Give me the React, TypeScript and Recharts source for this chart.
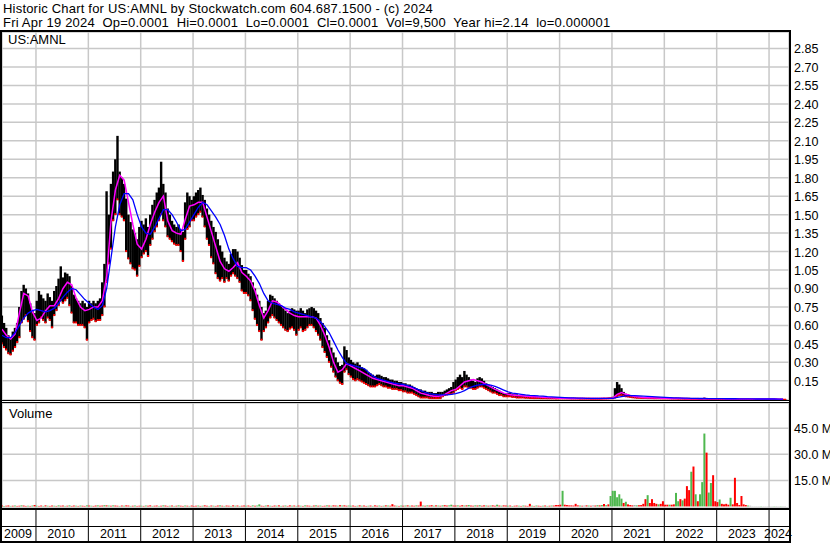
import { ComposedChart, Bar, Line, XAxis, YAxis, CartesianGrid, Cell } from "recharts";

// semi-monthly periods, first one mid May 2009
const START = 2009.35;
const STEP = 1 / 24;
const X_DOMAIN: [number, number] = [2009.351, 2024.381];

const yearTicks = [2010, 2011, 2012, 2013, 2014, 2015, 2016, 2017, 2018, 2019, 2020, 2021, 2022, 2023, 2024];
const yearLabels = ["2009", "2010", "2011", "2012", "2013", "2014", "2015", "2016", "2017", "2018", "2019", "2020", "2021", "2022", "2023", "2024"];
const priceTicks = [0.15, 0.3, 0.45, 0.6, 0.75, 0.9, 1.05, 1.2, 1.35, 1.5, 1.65, 1.8, 1.95, 2.1, 2.25, 2.4, 2.55, 2.7, 2.85];
const volumeTicks = [15, 30, 45];

// period highs / lows (US$)
const highs = [
  .68, .62, .58, .52, .50, .55, .58, .62, .75, .88, .93, .90, .86, .78, .72, .70, // 2009
  .80, .88, .85, .82, .80, .86, .83, .80, .88, .92, .98, 1.08, .99, 1.03, 1.02, 1.00, .92, .85, .82, .80, .78, .80, .78, .75, // 2010
  .80, .78, .80, .78, .80, .82, .95, 1.10, 1.69, 1.50, 1.75, 1.85, 1.95, 2.14, 1.85, 1.80, 1.75, 1.63, 1.50, 1.44, 1.38, 1.35, 1.30, 1.40, // 2011
  1.45, 1.42, 1.47, 1.40, 1.50, 1.58, 1.62, 1.68, 1.72, 1.93, 1.75, 1.68, 1.55, 1.50, 1.45, 1.42, 1.40, 1.42, 1.38, 1.36, 1.60, 1.68, 1.65, 1.62, // 2012
  1.65, 1.68, 1.70, 1.72, 1.66, 1.62, 1.55, 1.50, 1.45, 1.40, 1.36, 1.30, 1.25, 1.20, 1.15, 1.12, 1.10, 1.18, 1.22, 1.22, 1.20, 1.15, 1.09, 1.05, // 2013
  1.05, 1.02, 1.00, .95, .90, .85, .80, .75, .70, .72, .80, .85, .84, .82, .80, .78, .76, .74, .72, .70, .72, .74, .73, .72, // 2014
  .72, .74, .72, .70, .73, .74, .75, .74, .72, .70, .66, .62, .58, .52, .48, .42, .38, .34, .30, .27, .28, .43, .40, .34, // 2015
  .32, .30, .29, .30, .28, .26, .25, .24, .22, .21, .20, .19, .20, .20, .19, .18, .18, .17, .16, .16, .15, .15, .14, .14, // 2016
  .13, .13, .12, .12, .11, .10, .09, .08, .08, .07, .07, .06, .06, .06, .05, .05, .06, .06, .06, .07, .08, .09, .10, .14, // 2017
  .16, .18, .20, .18, .23, .20, .18, .16, .15, .14, .17, .18, .17, .15, .13, .12, .11, .10, .09, .08, .07, .06, .05, .05, // 2018
  .05, .05, .045, .04, .04, .035, .035, .03, .03, .03, .025, .025, .025, .02, .02, .02, .02, .018, .018, .016, .016, .015, .015, .014, // 2019
  .013, .012, .012, .011, .011, .010, .010, .010, .010, .009, .009, .009, .009, .009, .008, .008, .008, .008, .008, .009, .010, .010, .012, .015, // 2020
  .02, .09, .14, .12, .09, .06, .045, .04, .035, .03, .025, .022, .02, .02, .018, .018, .016, .016, .015, .015, .014, .014, .013, .013, // 2021
  .012, .012, .011, .011, .010, .010, .009, .009, .009, .008, .008, .008, .007, .007, .007, .007, .006, .006, .012, .006, .005, .005, .005, .005, // 2022
  .005, .005, .005, .004, .004, .004, .004, .004, .003, .003, .003, .003, .003, .003, .003, .002, .002, .002, .002, .002, .002, .002, .002, .002, // 2023
  .002, .002, .0015, .0015, .001, .001, .0005, .0005, // 2024
];

const lows = [
  .45, .42, .40, .37, .36, .39, .42, .46, .50, .62, .65, .68, .63, .55, .50, .48, // 2009
  .60, .62, .66, .64, .62, .66, .64, .58, .68, .72, .76, .80, .78, .80, .82, .76, .70, .62, .62, .60, .60, .60, .58, .48, // 2010
  .62, .64, .65, .63, .64, .64, .68, .75, .95, 1.10, 1.22, 1.45, 1.50, 1.62, 1.50, 1.48, 1.45, 1.20, 1.14, 1.10, 1.06, 1.05, 1.00, 1.08, // 2011
  1.15, 1.18, 1.20, 1.16, 1.25, 1.30, 1.36, 1.40, 1.45, 1.50, 1.45, 1.40, 1.32, 1.30, 1.28, 1.26, 1.25, 1.25, 1.20, 1.12, 1.30, 1.38, 1.40, 1.45, // 2012
  1.45, 1.48, 1.50, 1.52, 1.48, 1.40, 1.30, 1.25, 1.15, 1.10, 1.02, .98, .96, .98, .95, .98, .96, 1.00, 1.02, 1.00, .98, .95, .88, .86, // 2013
  .86, .84, .80, .72, .65, .60, .55, .48, .55, .58, .62, .66, .68, .66, .64, .62, .60, .58, .56, .55, .57, .58, .56, .52, // 2014
  .56, .58, .55, .56, .58, .60, .60, .58, .55, .52, .48, .42, .38, .34, .30, .26, .22, .18, .15, .13, .12, .22, .24, .20, // 2015
  .18, .16, .15, .16, .15, .14, .13, .12, .11, .10, .10, .10, .11, .12, .11, .10, .10, .09, .09, .08, .08, .08, .07, .07, // 2016
  .06, .06, .05, .05, .05, .04, .03, .02, .01, .01, .01, .01, .005, .005, .005, .005, .005, .005, .02, .03, .035, .04, .04, .05, // 2017
  .07, .08, .09, .08, .10, .10, .09, .09, .08, .08, .09, .10, .10, .09, .08, .07, .06, .05, .05, .04, .03, .03, .02, .02, // 2018
  .02, .02, .015, .015, .01, .01, .01, .01, .008, .008, .006, .006, .005, .005, .005, .004, .004, .004, .003, .003, .003, .003, .002, .002, // 2019
  .003, .003, .003, .003, .003, .002, .002, .002, .002, .002, .002, .002, .002, .002, .002, .002, .002, .002, .002, .002, .003, .003, .003, .004, // 2020
  .004, .01, .02, .03, .03, .025, .02, .018, .015, .012, .01, .008, .008, .007, .006, .006, .005, .005, .005, .004, .004, .004, .003, .003, // 2021
  .003, .003, .003, .002, .002, .002, .002, .002, .002, .002, .0015, .0015, .0015, .0015, .001, .001, .001, .001, .001, .001, .001, .001, .0008, .0008, // 2022
  .0005, .0005, .0005, .0005, .0005, .0005, .0005, .0005, .0003, .0003, .0003, .0003, .0003, .0003, .0003, .0003, .0001, .0001, .0001, .0001, .0001, .0001, .0001, .0001, // 2023
  .0001, .0001, .0001, .0001, .0001, .0001, .0001, .0001, // 2024
];

// monthly moving averages (magenta = short, blue = long)
const fastMA = [
  .57, .52, .49, .53, .70, .86, .84, .71, // 2009
  .64, .66, .72, .76, .76, .82, .90, .95, .93, .82, .75, .72, // 2010
  .73, .75, .75, .80, 1.00, 1.45, 1.70, 1.82, 1.78, 1.60, 1.42, 1.26, // 2011
  1.22, 1.30, 1.42, 1.52, 1.60, 1.65, 1.45, 1.37, 1.35, 1.34, 1.46, 1.57, // 2012
  1.58, 1.60, 1.60, 1.48, 1.36, 1.24, 1.12, 1.06, 1.04, 1.07, 1.11, 1.03, // 2013
  1.00, .96, .88, .76, .66, .72, .80, .79, .76, .73, .70, .68, // 2014
  .67, .67, .67, .67, .66, .60, .52, .42, .30, .22, .24, .29, // 2015
  .27, .25, .23, .21, .19, .17, .16, .15, .14, .13, .12, .11, // 2016
  .11, .10, .09, .07, .05, .04, .03, .025, .025, .03, .05, .07, // 2017
  .08, .11, .14, .15, .16, .15, .14, .12, .10, .08, .065, .05, // 2018
  .04, .035, .03, .028, .025, .022, .02, .018, .016, .014, .012, .01, // 2019
  .009, .008, .007, .007, .007, .006, .006, .006, .006, .006, .006, .007, // 2020
  .01, .04, .055, .04, .03, .022, .018, .015, .013, .012, .01, .009, // 2021
  .008, .007, .007, .006, .006, .005, .005, .005, .004, .004, .004, .004, // 2022
  .004, .004, .003, .003, .003, .003, .002, .002, .002, .002, .002, .002, // 2023
  .0015, .0015, .001, .001, // 2024
];

const slowMA = [
  .52, .50, .50, .54, .60, .66, .70, .72, // 2009
  .73, .72, .71, .72, .74, .78, .83, .87, .90, .89, .85, .81, // 2010
  .78, .75, .73, .76, .90, 1.15, 1.40, 1.58, 1.67, 1.67, 1.62, 1.50, // 2011
  1.40, 1.35, 1.34, 1.40, 1.47, 1.54, 1.54, 1.50, 1.44, 1.37, 1.38, 1.44, // 2012
  1.50, 1.56, 1.60, 1.58, 1.53, 1.48, 1.42, 1.33, 1.22, 1.14, 1.08, 1.07, // 2013
  1.07, 1.05, 1.00, .94, .86, .80, .78, .77, .76, .74, .73, .71, // 2014
  .70, .69, .68, .67, .66, .63, .59, .54, .47, .40, .34, .29, // 2015
  .28, .27, .26, .25, .22, .19, .17, .16, .15, .14, .13, .125, // 2016
  .12, .11, .10, .085, .07, .055, .045, .04, .035, .035, .035, .04, // 2017
  .045, .055, .07, .09, .105, .115, .12, .12, .115, .105, .09, .075, // 2018
  .06, .05, .045, .04, .035, .032, .03, .027, .025, .022, .02, .018, // 2019
  .016, .014, .012, .011, .01, .009, .008, .008, .007, .007, .007, .007, // 2020
  .008, .015, .022, .028, .03, .03, .028, .026, .024, .022, .02, .018, // 2021
  .016, .014, .012, .011, .01, .009, .008, .007, .006, .006, .005, .005, // 2022
  .005, .005, .004, .004, .004, .003, .003, .003, .003, .002, .002, .002, // 2023
  .002, .002, .0015, .0015, // 2024
];

// volume in millions, colour r = down, g = up, k = unchanged
const volumes = [
  .5, .3, .4, .6, .3, .4, .5, .3, .4, .6, .5, .3, .4, .3, .5, .8, // 2009
  .4, .3, .5, .3, .6, .4, .3, .5, .4, .3, .6, .4, .5, .3, .4, .6, .3, .5, .4, .3, .5, .4, .3, .6, // 2010
  .5, .4, .3, .5, .6, .4, .5, .7, .6, .5, .4, .6, .5, .4, .3, .5, .4, .6, .5, .3, .4, .5, .3, .4, // 2011
  .4, .3, .5, .4, .6, .3, .4, .5, .3, .4, .6, .5, .3, .4, .5, .3, .4, .6, .4, .3, .5, .4, .3, .5, // 2012
  .3, .4, .5, .3, .4, .6, .4, .3, .5, .4, .3, .5, .6, .4, .3, .5, .4, .3, .6, .4, .5, .3, .4, .5, // 2013
  .4, .5, .3, .6, .4, .5, 1.2, .4, .3, .5, .6, .4, .3, .5, .4, .6, .3, .4, .5, .3, .6, .4, .5, .3, // 2014
  .5, .4, .3, .6, .5, .4, .3, .5, .6, .4, .5, .3, .4, .6, .5, .4, .6, .5, .4, .7, .5, .6, .4, .5, // 2015
  .4, .5, .3, .4, .6, .4, .5, .3, .4, .5, .3, .6, .4, .5, .3, .4, .6, .5, .4, 1.3, .5, .4, .3, .5, // 2016
  .4, .5, .6, .4, .5, .4, .6, .5, 2.8, .5, .4, .6, .5, .7, .4, .6, .5, .4, .6, .7, .5, .6, 1.0, .5, // 2017
  .5, .6, .4, .7, .5, .6, .8, .5, .4, .6, .5, .7, .4, .6, .5, .4, .5, .6, .4, 1.0, .5, .4, .6, .5, // 2018
  .4, .5, .3, .4, .5, .4, .3, .5, .4, .3, 1.5, .4, .3, .5, .4, .3, .4, .5, .3, .4, .5, .5, .8, .8, // 2019
  1.0, 9, 1.0, .8, .6, .6, .5, 1.5, .6, .5, .4, .5, .6, .5, .4, .6, .5, .7, .6, .8, 1.4, .7, 1.2, 6, // 2020
  9, 9, 5.3, 7, 4.5, 2, 2.7, 1.2, .8, .6, .8, .6, .7, .8, 1.5, 4.2, 6.5, 2, 4.2, 2, 1.5, 1.2, 1.5, 3, // 2021
  1, 1, 1, 1, 1.2, 7.8, 3, 4.2, 3.5, 4.5, 11.7, 9.4, 20, 23, 7, 3, 7, 14, 42, 31, 8, 13.5, 18, 3, // 2022
  2.5, 4, 1.5, 1.2, 1.5, 1, 5, 1.2, 16.5, 2, .8, 6, 1.2, .8, .5, .4, .15, .15, .15, .15, .15, .15, .15, .15, // 2023
  .15, .15, .15, .2, .15, .15, .15, .15, // 2024
];

const volColours = [
  "rgrrgrgrrgrrgrgr", // 2009
  "grrgrgrrgrgrrgrgrrgrgrrg",
  "rgrrgrrgrgrgrrgrgrrgrgrr",
  "grgrrgrrgrgrrgrgrgrrgrgr",
  "rrgrgrrgrgrrgrgrrgrgrgrr",
  "grrgrggrrgrgrrgrgrgrrgrg",
  "rgrgrrgrgrgrrgrgrrgrgrrg",
  "grrgrgrrgrgrrgrgrgrrrgrg",
  "rgrgrrgrrgrgrrgrgrgrrggr",
  "rgrrgrgrrgrgrrgrgrrgrgrr",
  "grgrrgrgrrrgrgrrgrgrgrrr",
  "rgrrrrrrrgrkrgrkrgrgrgrg",
  "gggggrgrrrkgrrrrgrrrrgrr",
  "rrgrrggrgrrrgrgrgggrggrr",
  "rgrrrrgrrrrrrrgkkkkkgkkk",
  "kkgkkgkk", // 2024
].join("").split("");

const COLOURS: Record<string, string> = { r: "#ff0000", g: "#4fb84f", k: "#a8a8a8" };

const rows = highs.map((h, k) => ({
  t: START + k * STEP,
  range: [lows[k], h],
  fast: k % 2 === 0 ? fastMA[k / 2] : null,
  slow: k % 2 === 0 ? slowMA[k / 2] : null,
  vol: volumes[k],
  c: volColours[k],
}));

// year labels sit in the middle of each year cell
const labelPositions = yearLabels.map((_, i) => {
  const left = i === 0 ? X_DOMAIN[0] : yearTicks[i - 1];
  const right = i < yearTicks.length ? yearTicks[i] : X_DOMAIN[1];
  return (left + right) / 2;
});

const FONT = '"Liberation Sans", Arial, sans-serif';
const VOL_PLOT_H = 105; // volume plot height inside its chart
const AXIS_BOTTOM = 138; // bottom of the date rows inside the volume chart

function PriceBar(props: any) {
  const { x, y, width, height } = props;
  if (x == null || y == null || isNaN(y)) return null;
  const cx = x + width / 2;
  const top = Math.min(y, y + height);
  const h = Math.max(Math.abs(height), 1);
  return (
    <g>
      <rect x={cx - 1.2} y={top} width={2.4} height={h} fill="#000" />
      <rect x={cx - 1} y={top + h - 1.5} width={2} height={2} fill="#ff0000" />
    </g>
  );
}

const PriceTick = (props: any) => (
  <text x={props.x} y={props.y} dy={5} fontSize={12.5} fill="#000" textAnchor="start" fontFamily={FONT}>
    {Number(props.payload.value).toFixed(2)}
  </text>
);

const VolumeTick = (props: any) => (
  <text x={props.x} y={props.y} dy={4.5} fontSize={12.5} fill="#000" textAnchor="start" fontFamily={FONT}>
    {Number(props.payload.value).toFixed(1) + " M"}
  </text>
);

const SepTick = (props: any) => (
  <line x1={props.x} x2={props.x} y1={VOL_PLOT_H} y2={AXIS_BOTTOM} stroke="#000" strokeWidth={1} />
);

const YearTick = (props: any) => (
  <text x={props.x - 1} y={AXIS_BOTTOM - 3} fontSize={12.5} fill="#000" textAnchor="middle" fontFamily={FONT}>
    {yearLabels[props.index]}
  </text>
);

const line = (style: React.CSSProperties) => (
  <div style={{ position: "absolute", background: "#000", ...style }} />
);

const headerStyle: React.CSSProperties = {
  position: "absolute",
  left: 3,
  fontSize: 13,
  letterSpacing: 0.2,
  lineHeight: "14px",
  whiteSpace: "pre",
};

export default function App() {
  return (
    <div
      style={{
        position: "absolute",
        left: 0,
        top: 0,
        width: 830,
        height: 543,
        background: "#fff",
        fontFamily: FONT,
        color: "#000",
        overflow: "hidden",
      }}
    >
      <div style={{ ...headerStyle, top: 2 }}>
        Historic Chart for US:AMNL by Stockwatch.com 604.687.1500 - (c) 2024
      </div>
      <div style={{ ...headerStyle, top: 16 }}>
        {"Fri Apr 19 2024  Op=0.0001  Hi=0.0001  Lo=0.0001  Cl=0.0001  Vol=9,500  Year hi=2.14  lo=0.000001"}
      </div>

      {/* price panel */}
      <div style={{ position: "absolute", left: 0, top: 32 }}>
        <ComposedChart width={830} height={368} data={rows} margin={{ top: 0, right: 0, bottom: 0, left: 2 }}>
          <CartesianGrid stroke="#c8c8c8" strokeWidth={1.5} />
          <XAxis type="number" dataKey="t" domain={X_DOMAIN} ticks={yearTicks} hide allowDataOverflow />
          <YAxis
            orientation="right"
            domain={[-0.006, 2.984]}
            ticks={priceTicks}
            interval={0}
            width={41}
            tickSize={3}
            tickMargin={2}
            tickLine={false}
            axisLine={false}
            tick={PriceTick}
            allowDataOverflow
          />
          <Bar dataKey="range" barSize={2} shape={PriceBar} isAnimationActive={false} />
          <Line type="linear" dataKey="fast" stroke="#ff00ff" strokeWidth={1.5} dot={false} connectNulls isAnimationActive={false} />
          <Line type="linear" dataKey="slow" stroke="#0000ff" strokeWidth={1.3} dot={false} connectNulls isAnimationActive={false} />
        </ComposedChart>
      </div>

      {/* volume panel + date rows */}
      <div style={{ position: "absolute", left: 0, top: 403 }}>
        <ComposedChart width={830} height={AXIS_BOTTOM} data={rows} margin={{ top: 0, right: 0, bottom: 0, left: 2 }} baseValue="dataMin">
          <CartesianGrid stroke="#c8c8c8" strokeWidth={1.5} />
          <XAxis type="number" dataKey="t" domain={X_DOMAIN} ticks={yearTicks} hide allowDataOverflow />
          <XAxis
            xAxisId="sep"
            type="number"
            dataKey="t"
            domain={X_DOMAIN}
            ticks={yearTicks}
            interval={0}
            height={1}
            tickSize={0}
            tickMargin={0}
            tickLine={false}
            axisLine={false}
            tick={SepTick}
            allowDataOverflow
          />
          <XAxis
            xAxisId="lab"
            type="number"
            dataKey="t"
            domain={X_DOMAIN}
            ticks={labelPositions}
            interval={0}
            height={AXIS_BOTTOM - VOL_PLOT_H - 1}
            tickSize={0}
            tickMargin={0}
            tickLine={false}
            axisLine={false}
            tick={YearTick}
            allowDataOverflow
          />
          <YAxis
            orientation="right"
            domain={[-0.9, 59.6]}
            ticks={volumeTicks}
            interval={0}
            width={41}
            tickSize={3}
            tickMargin={2}
            tickLine={false}
            axisLine={false}
            tick={VolumeTick}
            allowDataOverflow
          />
          <Bar dataKey="vol" barSize={2} isAnimationActive={false}>
            {rows.map((r, i) => (
              <Cell key={i} fill={COLOURS[r.c]} />
            ))}
          </Bar>
        </ComposedChart>
      </div>

      <div style={{ position: "absolute", left: 8, top: 33, fontSize: 13, lineHeight: "14px" }}>US:AMNL</div>
      <div style={{ position: "absolute", left: 9, top: 407, fontSize: 13, lineHeight: "14px" }}>Volume</div>

      {line({ left: 0, top: 30, width: 791, height: 2 })}
      {line({ left: 0, top: 30, width: 2, height: 513 })}
      {line({ left: 789, top: 30, width: 2, height: 513 })}
      {line({ left: 0, top: 400, width: 791, height: 1 })}
      {line({ left: 0, top: 402, width: 791, height: 1 })}
      {line({ left: 0, top: 508, width: 791, height: 2 })}
      {line({ left: 0, top: 526, width: 791, height: 1 })}
      {line({ left: 0, top: 541, width: 791, height: 2 })}
    </div>
  );
}
